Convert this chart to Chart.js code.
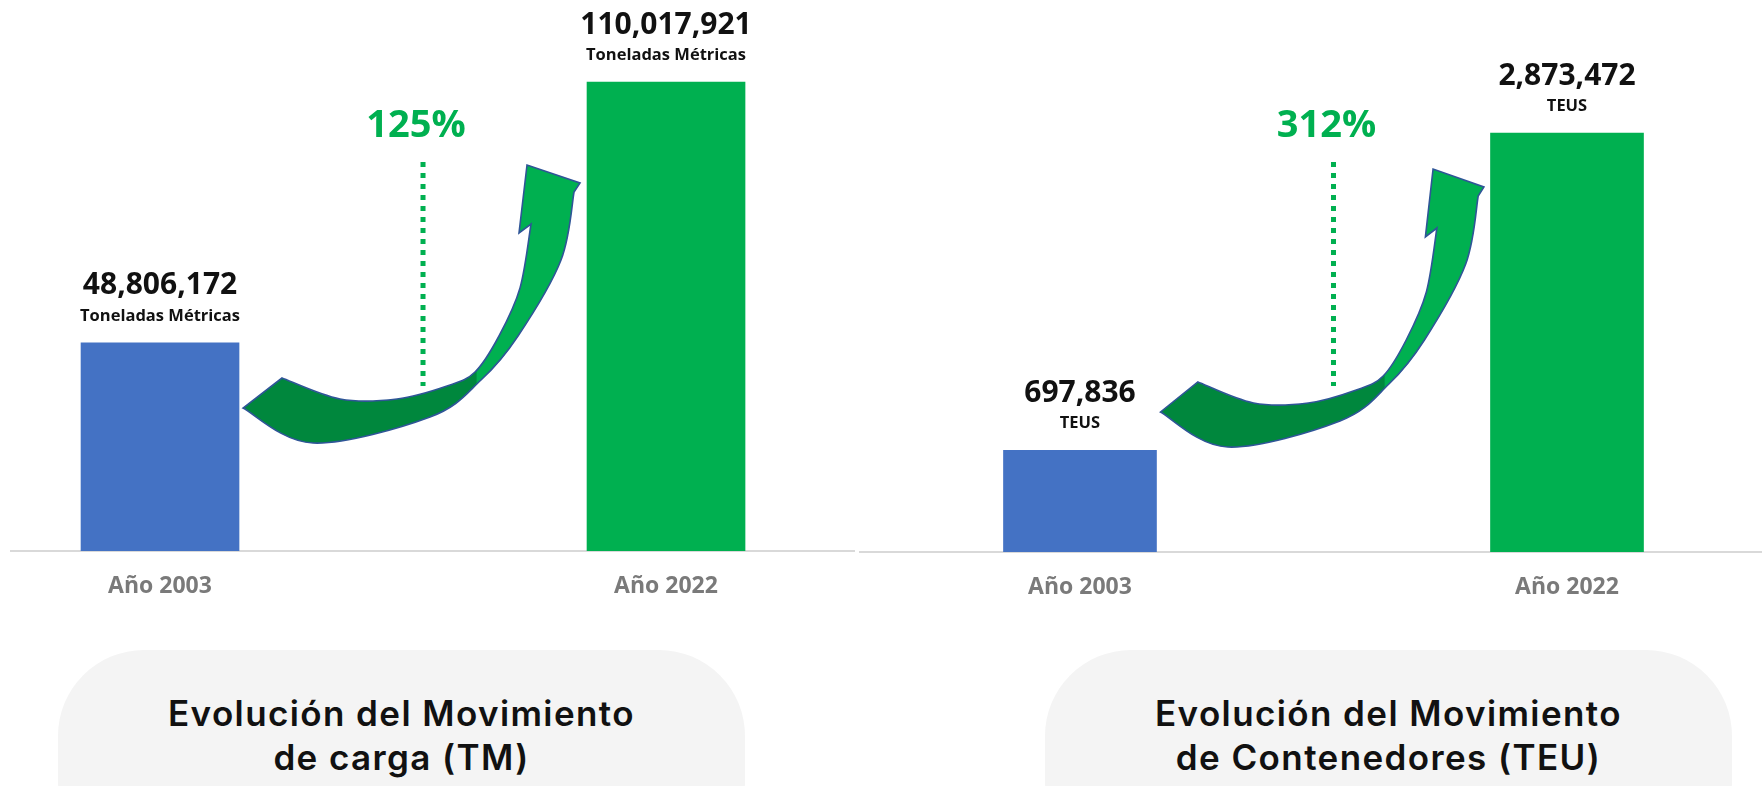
<!DOCTYPE html>
<html>
<head>
<meta charset="utf-8">
<script src="https://cdn.jsdelivr.net/npm/chart.js@4.4.1/dist/chart.umd.min.js"></script>
<style>
  body { margin: 0; width: 1762px; height: 786px; overflow: hidden; background: #fff; }
  .box { position: absolute; top: 0; height: 786px; }
  .pill {
    position: absolute; top: 650px; width: 687px; height: 220px;
    border-radius: 86px; background: #f4f4f4;
    font-family: "Inter", "Noto Sans", sans-serif; font-weight: 600;
    font-size: 35px; line-height: 44px; letter-spacing: 1.4px; color: #111;
    text-align: center; padding-top: 41px; box-sizing: border-box;
  }
</style>
</head>
<body>
<div class="pill" style="left:58px">Evolución del Movimiento<br>de carga (TM)</div>
<div class="pill" style="left:1045px">Evolución del Movimiento<br>de Contenedores (TEU)</div>
<div class="box" style="left:0;width:858px"><canvas id="cargaChart"></canvas></div>
<div class="box" style="left:858px;width:904px"><canvas id="teuChart"></canvas></div>
<script>
// Data
const categories = ["Año 2003", "Año 2022"];
const cargaTM = [48806172, 110017921];
const contenedoresTEU = [697836, 2873472];
const barColors = ["#4472c4", "#00b050"];

// Curved arrow outline (local px, tail corner at 0,0)
const outerEdge = [[0, 0], [70, 35], [187, 9], [238, -28], [275, -72], [318, -148], [331, -216]];
const headPts = [[337, -225], [284, -243], [276, -175], [288, -184]];
const innerEdge = [[288, -184], [277, -120], [256, -72], [232, -36], [204, -22], [154, -9], [97, -9], [39, -30]];

function curveThrough(ctx, p) {
  ctx.lineTo(p[0][0], p[0][1]);
  for (let i = 0; i < p.length - 1; i++) {
    const a = p[i - 1] || p[i], b = p[i], c = p[i + 1], d = p[i + 2] || c;
    ctx.bezierCurveTo(
      b[0] + (c[0] - a[0]) / 6, b[1] + (c[1] - a[1]) / 6,
      c[0] - (d[0] - b[0]) / 6, c[1] - (d[1] - b[1]) / 6,
      c[0], c[1]
    );
  }
}

function drawArrow(ctx, x0, y0, sx) {
  const tr = (pts) => pts.map(([x, y]) => [x0 + x * sx, y0 + y]);
  ctx.beginPath();
  ctx.moveTo(x0, y0);
  curveThrough(ctx, tr(outerEdge));
  tr(headPts).forEach(([x, y]) => ctx.lineTo(x, y));
  curveThrough(ctx, tr(innerEdge));
  ctx.closePath();
  const g = ctx.createLinearGradient(x0, 0, x0 + 335 * sx, 0);
  g.addColorStop(0, "#00873d");
  g.addColorStop(0.695, "#00873d");
  g.addColorStop(0.7, "#00b050");
  g.addColorStop(1, "#00b050");
  ctx.fillStyle = g;
  ctx.fill();
  ctx.strokeStyle = "#2f5597";
  ctx.lineWidth = 1.6;
  ctx.stroke();
}

// Labels over bars, growth %, dotted line and arrow
const decor = {
  id: "decor",
  afterDatasetsDraw(chart, args, o) {
    const ctx = chart.ctx;
    const bars = chart.getDatasetMeta(0).data;
    const vals = chart.data.datasets[0].data;
    ctx.save();
    ctx.textAlign = "center";
    ctx.textBaseline = "middle";
    ctx.fillStyle = "#111";
    bars.forEach((bar, i) => {
      ctx.font = 'bold 30px "Open Sans"';
      ctx.fillText(vals[i].y.toLocaleString("en-US"), bar.x, bar.y - 57);
      ctx.font = 'bold 16.5px "Open Sans"';
      ctx.fillText(o.unit, bar.x, bar.y - 27);
    });

    const b0 = bars[0], b1 = bars[1];
    const mid = (b0.x + b1.x) / 2;

    ctx.strokeStyle = "#00b050";
    ctx.lineWidth = 5;
    ctx.setLineDash([5, 6]);
    ctx.beginPath();
    ctx.moveTo(mid + 10, 162);
    ctx.lineTo(mid + 10, 386);
    ctx.stroke();
    ctx.setLineDash([]);

    const pct = Math.round((vals[1].y / vals[0].y - 1) * 100);
    ctx.fillStyle = "#00b050";
    ctx.font = 'bold 38px "Open Sans"';
    ctx.fillText(pct + "%", mid + 3, 126);

    const left = b0.x + b0.width / 2;
    const right = b1.x - b1.width / 2;
    drawArrow(ctx, left + 4, o.arrowY, (right - left) / 348);
    ctx.restore();
  }
};

function makeChart(id, values, opt) {
  new Chart(document.getElementById(id), {
    type: "bar",
    data: {
      datasets: [{
        data: values.map((v, i) => ({ x: i, y: v })),
        backgroundColor: barColors,
        barThickness: opt.barWidth
      }]
    },
    options: {
      responsive: true,
      maintainAspectRatio: false,
      animation: false,
      layout: { padding: opt.padding },
      plugins: {
        legend: { display: false },
        tooltip: { enabled: false },
        decor: { unit: opt.unit, arrowY: opt.arrowY }
      },
      scales: {
        x: {
          type: "linear",
          offset: false,
          min: opt.xMin,
          max: opt.xMax,
          grid: { display: false, drawTicks: false },
          border: { display: true, color: "#d9d9d9", width: 2 },
          afterBuildTicks: (s) => { s.ticks = categories.map((c, i) => ({ value: i })); },
          afterFit: (s) => { s.height = opt.axisHeight; },
          ticks: {
            padding: 22,
            color: "#7a7a7a",
            font: { family: "Open Sans", weight: "bold", size: 23 },
            callback: (v) => categories[v]
          }
        },
        y: { display: false, min: 0, max: opt.yMax }
      }
    },
    plugins: [decor]
  });
}

makeChart("cargaChart", cargaTM, {
  unit: "Toneladas Métricas", barWidth: 158, padding: { left: 11, right: 4 },
  xMin: -0.2945, xMax: 1.3715, yMax: 129.25e6, axisHeight: 235, arrowY: 408
});
makeChart("teuChart", contenedoresTEU, {
  unit: "TEUS", barWidth: 153, padding: { left: 2, right: 0 },
  xMin: -0.4517, xMax: 1.4004, yMax: 3.786e6, axisHeight: 234, arrowY: 412
});
</script>
</body>
</html>
